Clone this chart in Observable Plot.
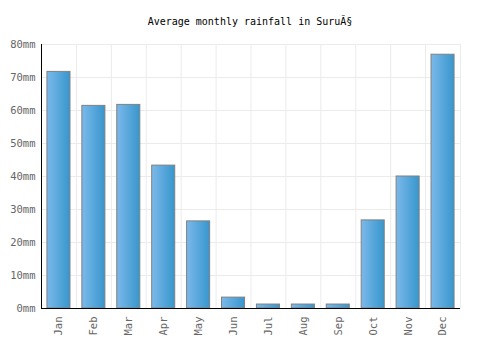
<!DOCTYPE html>
<html>
<head>
<meta charset="utf-8">
<script src="https://cdn.jsdelivr.net/npm/d3@7"></script>
<script src="https://cdn.jsdelivr.net/npm/@observablehq/plot@0.6"></script>
<style>
  body { margin: 0; background: #fff; }
  #title { width: 500px; height: 35px; box-sizing: border-box; padding-top: 16px; text-align: center;
           font-family: "DejaVu Sans Mono", monospace; font-size: 10px; color: #000; }
</style>
</head>
<body>
<svg width="0" height="0" style="position:absolute">
  <defs>
    <linearGradient id="barGrad" x1="0" x2="1" y1="0" y2="0">
      <stop offset="0%" stop-color="#7bb9ea"/>
      <stop offset="100%" stop-color="#3796cd"/>
    </linearGradient>
  </defs>
</svg>
<div id="title">Average monthly rainfall in SuruÃ§</div>
<div id="chart"></div>
<script>
const months = ["Jan","Feb","Mar","Apr","May","Jun","Jul","Aug","Sep","Oct","Nov","Dec"];
const rainfall = [71.7, 61.4, 61.7, 43.3, 26.4, 3.3, 1.2, 1.2, 1.2, 26.7, 40.0, 76.9];
const yTicks = [0,10,20,30,40,50,60,70,80];

const data = months.map((m, i) => ({month: m, value: rainfall[i]}));
const W = 500, mL = 41, mR = 40;
const bw = (W - mL - mR) / months.length;

const chart = Plot.plot({
  width: W,
  height: 315,
  marginTop: 9,
  marginBottom: 42,
  marginLeft: mL,
  marginRight: mR,
  style: {fontFamily: "DejaVu Sans Mono, monospace", fontSize: "10.5px", color: "#666", background: "#fff"},
  x: {domain: months, paddingInner: 0.34, paddingOuter: 0.17, round: false, label: null},
  y: {domain: [0, 80], label: null},
  marks: [
    Plot.ruleY(yTicks.slice(1), {stroke: "#ebebeb", strokeWidth: 1}),
    Plot.ruleX(months.slice(1), {x: d => d, dx: -bw/2, y1: 0, y2: 80, stroke: "#ebebeb"}),
    Plot.ruleX(["Dec"], {x: d => d, dx: bw/2, y1: 0, y2: 80, stroke: "#ebebeb"}),
    Plot.barY(data, {x: "month", y: "value", fill: "url(#barGrad)", stroke: "#808080", strokeWidth: 1}),
    Plot.ruleY([0], {stroke: "#000", strokeWidth: 1}),
    Plot.ruleX(["Jan"], {x: d => d, dx: -bw/2, y1: 0, y2: 80, stroke: "#000"}),
    Plot.axisY({ticks: yTicks, tickSize: 0, tickPadding: 6, tickFormat: d => d + "mm", fill: "#666"}),
    Plot.axisX({tickSize: 0, tickPadding: 8, tickRotate: -90, fill: "#666"})
  ]
});
document.getElementById("chart").appendChild(chart);
</script>
</body>
</html>
